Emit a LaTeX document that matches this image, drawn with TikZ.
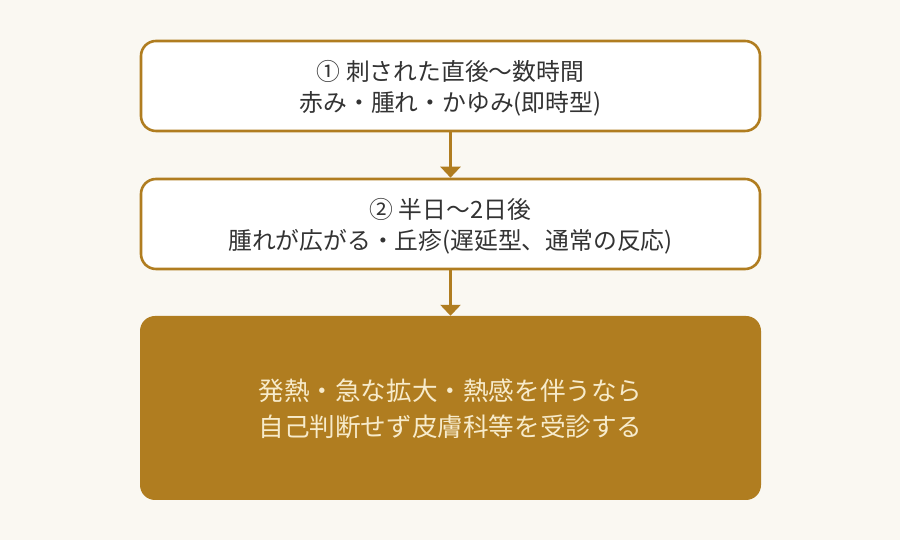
\documentclass[tikz,border=0pt]{standalone}
\usepackage{fontspec}
\newfontfamily\jp{Noto Sans CJK JP}
\usetikzlibrary{arrows.meta}
\definecolor{bgc}{HTML}{FAF8F2}
\definecolor{gold}{HTML}{B07D20}
\definecolor{txt}{HTML}{333333}
\definecolor{pale}{HTML}{F7EBCB}
\newcommand\lowtext[2]{\raisebox{-#1}[\height][\depth]{\begin{tabular}{@{}c@{}}#2\end{tabular}}}
\tikzset{
  stepbox/.style={draw=gold, line width=2.6pt, fill=white, rounded corners=15pt,
    minimum width=619pt, minimum height=90pt, align=center, text=txt,
    font=\jp\fontsize{23.8}{31}\selectfont, inner sep=0pt},
  alertbox/.style={fill=gold, rounded corners=15pt,
    minimum width=621pt, minimum height=184pt, align=center, text=pale,
    font=\jp\fontsize{25.6}{35.5}\selectfont, inner sep=0pt},
  flow/.style={draw=gold, line width=3pt, -{Triangle[width=20pt,length=11pt]}}
}
\begin{document}
\begin{tikzpicture}[x=1pt,y=1pt]
\useasboundingbox[fill=bgc] (0,0) rectangle (900,540);
\node[stepbox] (a) at (450.5,454) {\lowtext{3.5pt}{① 刺された直後～数時間\\赤み・腫れ・かゆみ(即時型)}};
\node[stepbox] (b) at (450.5,316) {\lowtext{3.5pt}{② 半日～2日後\\腫れが広がる・丘疹(遅延型、通常の反応)}};
\node[alertbox] (c) at (450.5,132) {\lowtext{3.5pt}{発熱・急な拡大・熱感を伴うなら\\自己判断せず皮膚科等を受診する}};
\draw[flow] (a.south) -- (b.north);
\draw[flow] (b.south) -- (c.north);
\end{tikzpicture}
\end{document}
